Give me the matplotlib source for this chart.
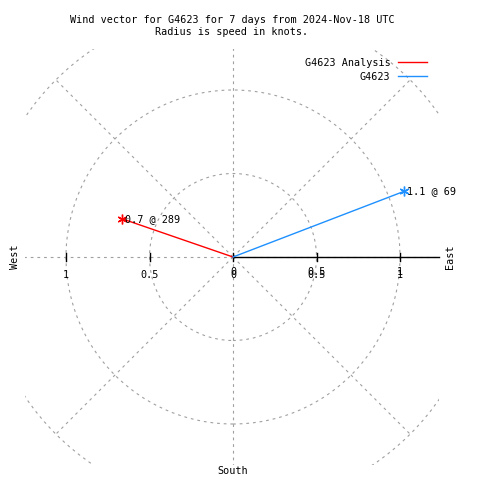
import numpy as np
import matplotlib
matplotlib.use('Agg')
from matplotlib import pyplot as plt
from matplotlib.patches import Circle, Rectangle

########
# DATA #
########

names = ['G4623 Analysis', 'G4623']
speeds = [0.7, 1.1]          # knots
directions = [289, 69]       # degrees, clockwise from north
colors = ['red', '#1e90ff']

ring_radii = [0.5, 1.0, 1.5]
spoke_angles = np.arange(0, 360, 45)
tick_values = [-1, -0.5, 0, 0.5, 1]
rmax_box = 1.245

title = ('Wind vector for G4623 for 7 days from 2024-Nov-18 UTC\n'
         'Radius is speed in knots.')

########
# PLOT #
########

font = 'DejaVu Sans Mono'
fs = 7.3
grid_kw = dict(color='#a0a0a0', lw=0.8, linestyle=(0, (2.5, 3.5)))

fig = plt.figure(figsize=(4.8, 4.8), dpi=100)
ax = fig.add_axes([0, 0, 1, 1])
scale = 167.
ax.set_xlim(-233 / scale, 247 / scale)
ax.set_ylim(-223 / scale, 257 / scale)
ax.axis('off')

clip = Rectangle((-rmax_box, -rmax_box), 2 * rmax_box - 0.01, 2 * rmax_box,
                 transform=ax.transData)

# rings
for r in ring_radii:
    c = Circle((0, 0), r, fill=False, **grid_kw)
    ax.add_patch(c)
    c.set_clip_path(clip)

# spokes
for a in spoke_angles:
    t = np.deg2rad(a)
    ln, = ax.plot([0, 1.5 * np.cos(t)], [0, 1.5 * np.sin(t)], **grid_kw)
    ln.set_clip_path(clip)

# radial axis, east side
ax.plot([0, rmax_box - 0.01], [0, 0], color='black', lw=1.0)
tick_h = 4 / scale
for v in tick_values:
    ax.plot([v, v], [-tick_h, tick_h], color='black', lw=1.0)
    ax.text(v, -18 / scale, '%g' % abs(v), ha='center', va='center',
            family=font, fontsize=fs)
    # gnuplot writes the east-side labels twice, slightly shifted
    if v >= 0:
        ax.text(v, -15 / scale, '%g' % abs(v), ha='center', va='center',
                family=font, fontsize=fs)

# vectors
for name, spd, d, col in zip(names, speeds, directions, colors):
    x = spd * np.sin(np.deg2rad(d))
    y = spd * np.cos(np.deg2rad(d))
    ax.plot([0, x], [0, y], color=col, lw=1.0, label=name)
    ax.plot(x, y, marker=(6, 2, 0), color=col, ms=7, mew=1.0)
    ax.text(x + 3 / scale, y, '%g @ %d' % (spd, d), ha='left', va='center',
            family=font, fontsize=fs)

ax.legend(loc='upper right', bbox_to_anchor=(427 / 480, 1 - 58 / 480),
          bbox_transform=fig.transFigure, frameon=False, markerfirst=False,
          borderpad=0, borderaxespad=0, handlelength=2.9, handletextpad=0.7,
          labelspacing=0.35, prop=dict(family=font, size=fs))

# compass labels
ax.text(15 / scale - 233 / scale, 0, 'West', rotation=90, ha='center',
        va='center', family=font, fontsize=fs)
ax.text(217 / scale, 0, 'East', rotation=90, ha='center', va='center',
        family=font, fontsize=fs)
ax.text(0, -214 / scale, 'South', ha='center', va='center',
        family=font, fontsize=fs)

fig.text(232 / 480, 1 - 15 / 480, title, ha='center', va='top',
         family=font, fontsize=fs, linespacing=1.3)

plt.savefig('out.png', dpi=100)
plt.close()
